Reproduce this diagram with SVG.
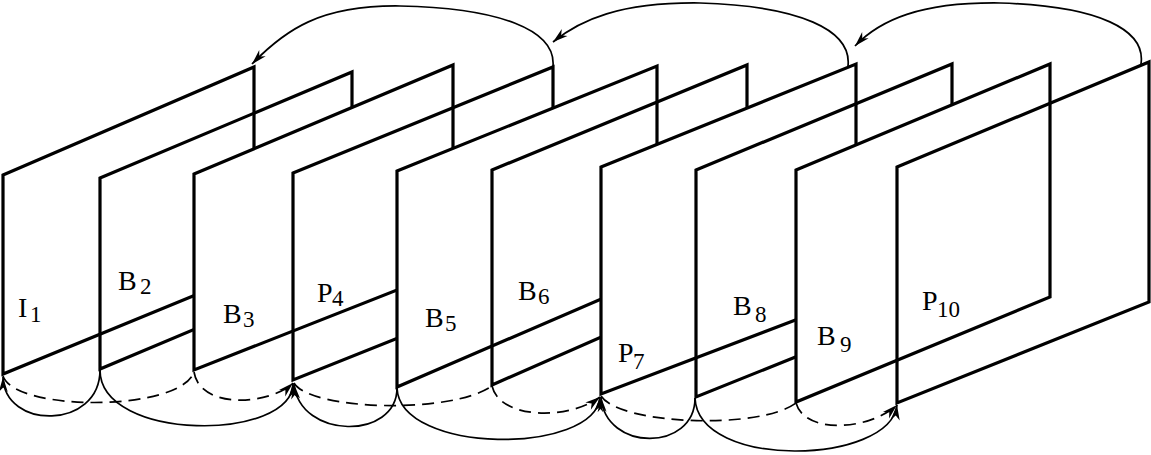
<svg xmlns="http://www.w3.org/2000/svg" width="1151" height="455" viewBox="0 0 1151 455">
<style>
.fr{stroke:#000;stroke-width:3.2;stroke-linejoin:miter}
.op{fill:#fff}
.tr{fill:none}
.arc{fill:none;stroke:#000;stroke-width:1.7}
.dash{stroke-dasharray:12 7}
.lbl{font-family:"Liberation Serif","Times New Roman",serif;font-size:28px;fill:#000}
.sub{font-size:23px}
</style>
<defs>
<marker id="ah" viewBox="-16 -6 17 12" refX="0" refY="0" markerWidth="17" markerHeight="12" markerUnits="userSpaceOnUse" orient="auto">
<path d="M0,0 L-15,-4.5 L-10.5,0 L-15,4.5 Z" fill="#000"/>
</marker>
</defs>
<rect width="1151" height="455" fill="#fff"/>
<g id="I1"><polygon class="fr op" points="3,175 254,67 254,271 3,374"/><text class="lbl" x="18" y="317">I<tspan class="sub" x="30" y="322">1</tspan></text></g>
<g id="B2"><polygon class="fr tr" points="100,178 352,72 352,263 100,369"/><text class="lbl" x="118" y="290">B<tspan class="sub" x="140" y="294">2</tspan></text></g>
<g id="B3"><polygon class="fr op" points="194,174 453,65 453,268 194,370"/><text class="lbl" x="223" y="323">B<tspan class="sub" x="243" y="327">3</tspan></text></g>
<g id="P4"><polygon class="fr tr" points="293,173 553,67 553,276 293,380"/><text class="lbl" x="317" y="302">P<tspan class="sub" x="332" y="306">4</tspan></text></g>
<g id="B5"><polygon class="fr op" points="397,171 657,66 657,275 397,387"/><text class="lbl" x="425" y="327">B<tspan class="sub" x="445" y="331">5</tspan></text></g>
<g id="B6"><polygon class="fr tr" points="492,170 747,65 747,273 492,385"/><text class="lbl" x="518" y="300">B<tspan class="sub" x="538" y="304">6</tspan></text></g>
<g id="P7"><polygon class="fr op" points="601,167 856,64 856,297 601,394"/><text class="lbl" x="618" y="362">P<tspan class="sub" x="633" y="369">7</tspan></text></g>
<g id="B8"><polygon class="fr tr" points="696,170 952,64 952,294 696,397"/><text class="lbl" x="733" y="315">B<tspan class="sub" x="755" y="322">8</tspan></text></g>
<g id="B9"><polygon class="fr op" points="796,170 1050,64 1050,297 796,402"/><text class="lbl" x="817" y="345">B<tspan class="sub" x="840" y="352">9</tspan></text></g>
<g id="P10"><polygon class="fr tr" points="897,167 1149,62 1149,302 897,403"/><text class="lbl" x="922" y="310">P<tspan class="sub" x="937" y="317">10</tspan></text></g>
<g id="connectors">
<path class="arc" d="M553,66 C556,30 500,8 400,6 C320,5 285,30 252,64" marker-end="url(#ah)"/>
<path class="arc" d="M848,66 C852,30 800,6 700,3 C620,2 580,20 553,42" marker-end="url(#ah)"/>
<path class="arc" d="M1141,64 C1146,30 1100,6 1000,3 C920,2 880,20 855,46" marker-end="url(#ah)"/>
<path class="arc" d="M100,370 C100,430 4,430 3,377" marker-end="url(#ah)"/>
<path class="arc" d="M100,370 C100,442 293,442 293,383" marker-end="url(#ah)"/>
<path class="arc dash" d="M3,376 C15,412 180,412 194,372"/>
<path class="arc dash" d="M194,372 C200,410 270,405 293,383" marker-end="url(#ah)"/>
<path class="arc" d="M397,388 C397,440 300,440 294,384" marker-end="url(#ah)"/>
<path class="arc dash" d="M294,383 C310,410 450,415 492,386"/>
<path class="arc" d="M397,388 C400,455 595,455 600,397" marker-end="url(#ah)"/>
<path class="arc dash" d="M492,386 C500,420 570,420 600,397" marker-end="url(#ah)"/>
<path class="arc" d="M695,398 C695,452 605,452 601,397" marker-end="url(#ah)"/>
<path class="arc dash" d="M601,396 C620,425 760,430 796,403"/>
<path class="arc" d="M695,398 C698,470 890,465 897,405" marker-end="url(#ah)"/>
<path class="arc dash" d="M796,403 C805,435 870,430 897,405" marker-end="url(#ah)"/>
</g>
</svg>
